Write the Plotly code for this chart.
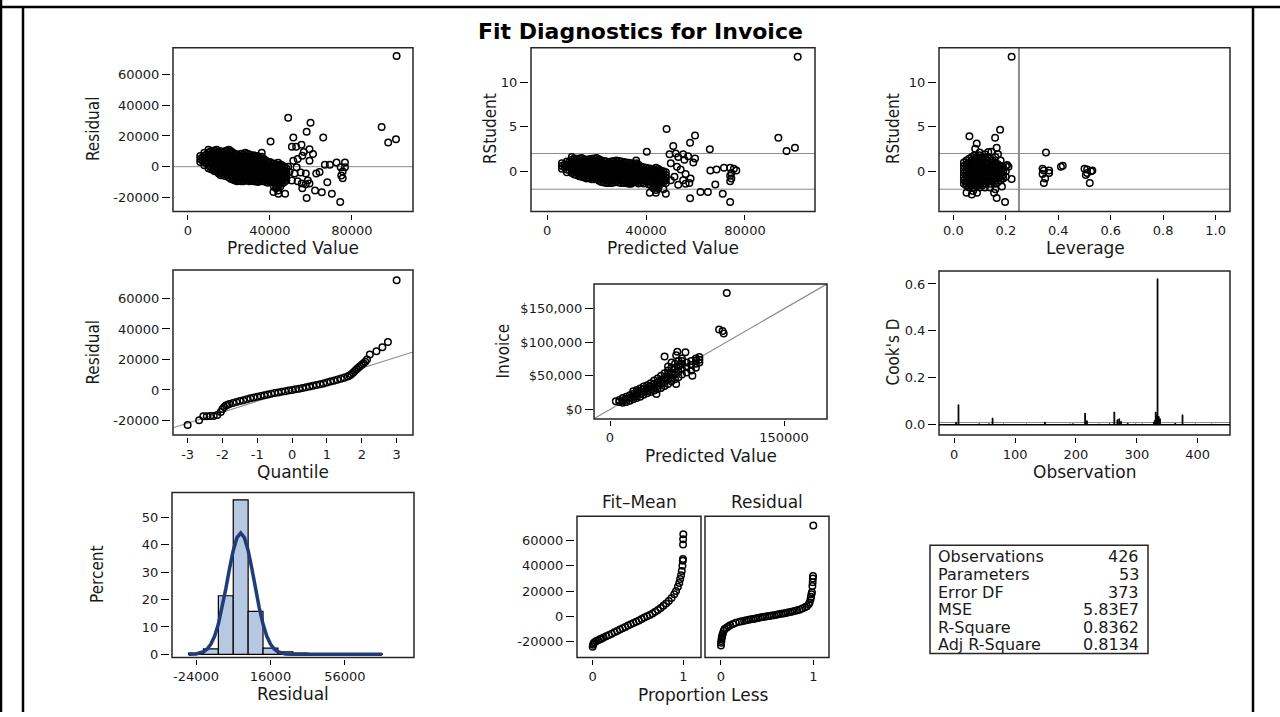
import plotly.graph_objects as go

W, H = 1280, 717

# ---------------- Panel 1: Residual vs Predicted Value ----------------
cluster_pred = [6000, 8000, 10000, 12000, 14000, 16000, 18000, 20000, 22000, 24000, 26000,
                28000, 30000, 32000, 34000, 36000, 38000, 40000, 42000, 44000, 46000, 48000]
p1_cluster_resid = [
    [7000, 5000, 3000],
    [9000, 7000, 5000, 3000, 1000],
    [11000, 9000, 7000, 5000, 3000, 1000, -1000],
    [10000, 8000, 6000, 4000, 2000, 0, -2000],
    [11000, 9000, 7000, 5000, 3000, 1000, -1000, -3000],
    [10000, 8000, 6000, 4000, 2000, 0, -2000, -4000, -5500],
    [10000, 8000, 6000, 4000, 2000, 0, -2000, -4000, -6000],
    [11000, 9000, 7000, 5000, 3000, 1000, -1000, -3000, -5000, -7000],
    [9000, 7000, 5000, 3000, 1000, -1000, -3000, -5000, -7000, -8500],
    [8000, 6000, 4000, 2000, 0, -2000, -4000, -6000, -8000, -9500],
    [8500, 6500, 4500, 2500, 500, -1500, -3500, -5500, -7500, -9500],
    [9000, 7000, 5000, 3000, 1000, -1000, -3000, -5000, -7000, -9000],
    [8000, 6000, 4000, 2000, 0, -2000, -4000, -6000, -8000, -9500],
    [7500, 5500, 3500, 1500, -500, -2500, -4500, -6500, -8500, -9500],
    [7000, 5000, 3000, 1000, -1000, -3000, -5000, -7000, -9000, -10000],
    [9000, 6500, 4500, 2500, 500, -1500, -3500, -5500, -7500, -9500],
    [4000, 2000, 0, -2000, -4000, -6000, -8000, -10000],
    [3000, 1000, -1000, -3000, -5000, -7000, -9000],
    [2000, 0, -2000, -4000, -6000, -8000, -10000, -13000],
    [2500, 500, -1500, -3500, -5500, -7500, -9500, -12500, -15500],
    [1000, -1000, -3000, -5000, -7000, -9000, -11000],
    [-1000, -3000, -5000, -7000, -9000],
]
cluster_pred_mid = [7000, 9000, 11000, 13000, 15000, 17000, 19000, 21000, 23000, 25000, 27000,
                    29000, 31000, 33000, 35000, 37000, 39000, 41000, 43000, 45000, 47000]
p1_cluster_resid_mid = [
    [6000, 4000],
    [8000, 6000, 4000, 2000],
    [10000, 8000, 6000, 4000, 2000, 0, -1500],
    [10500, 8500, 6500, 4500, 2500, 500, -1500, -3000],
    [9500, 7500, 5500, 3500, 1500, -500, -2500, -4500],
    [9000, 7000, 5000, 3000, 1000, -1000, -3000, -5000],
    [10500, 8500, 6500, 4500, 2500, 500, -1500, -3500, -5500],
    [10000, 8000, 6000, 4000, 2000, 0, -2000, -4000, -6000, -8000],
    [8500, 6500, 4500, 2500, 500, -1500, -3500, -5500, -7500, -9000],
    [7000, 5000, 3000, 1000, -1000, -3000, -5000, -7000, -9000],
    [8000, 6000, 4000, 2000, 0, -2000, -4000, -6000, -8000, -9500],
    [8500, 6500, 4500, 2500, 500, -1500, -3500, -5500, -7500, -9000],
    [7000, 5000, 3000, 1000, -1000, -3000, -5000, -7000, -9000],
    [6500, 4500, 2500, 500, -1500, -3500, -5500, -7500, -9500],
    [6000, 4000, 2000, 0, -2000, -4000, -6000, -8000, -9500],
    [5000, 3000, 1000, -1000, -3000, -5000, -7000, -9000],
    [3000, 1000, -1000, -3000, -5000, -7000, -9000, -10500],
    [2000, 0, -2000, -4000, -6000, -8000, -10000],
    [1500, -500, -2500, -4500, -6500, -8500, -10500, -14000],
    [1500, -500, -2500, -4500, -6500, -8500, -10500, -13000],
    [0, -2000, -4000, -6000, -8000, -10000],
]
p1_out_pred = [101800, 48900, 59800, 57900, 94500, 97700, 101500, 66000, 51400, 40300, 55400,
               50700, 52800, 59300, 61000, 55800, 59300, 51400, 66800, 69200, 72500, 76600,
               74500, 76600, 75500, 74800, 75500, 68000, 49500, 52000, 55000, 57500, 50700,
               53500, 55500, 57500, 58500, 59300, 55800, 57900, 62000, 65300, 70200, 74300,
               41700, 44100, 47400, 43000, 44600, 48900, 45700, 53000, 62600, 64200, 53500, 56500]
p1_out_resid = [72000, 31800, 28600, 22800, 25800, 15700, 17900, 19000, 19000, 16400, 14200,
                12900, 12900, 11400, 8200, 7100, 3900, 3900, 1300, 1300, 2800, 2800,
                -300, -300, -3200, -5800, -7500, -10100, -3500, -4500, -3800, -4500, -9000,
                -9500, -11000, -11500, -9000, -11000, -14000, -20400, -15500, -16600, -17600, -23000,
                -16500, -17600, -17600, -12300, -10100, 0, 500, -300, -4500, -3500, 5000, 9500]

# ---------------- Panel 2: RStudent vs Predicted Value ----------------
p2_cluster_rstudent = [
    [0.9, 0.6, 0.3],
    [1.1, 0.8, 0.5, 0.2, -0.1],
    [1.6, 1.3, 1.0, 0.7, 0.4, 0.1, -0.2],
    [1.4, 1.1, 0.8, 0.5, 0.2, -0.1, -0.4],
    [1.5, 1.2, 0.9, 0.6, 0.3, 0.0, -0.3, -0.6],
    [1.3, 1.0, 0.7, 0.4, 0.1, -0.2, -0.5, -0.8],
    [1.4, 1.1, 0.8, 0.5, 0.2, -0.1, -0.4, -0.7, -0.9],
    [1.5, 1.2, 0.9, 0.6, 0.3, 0.0, -0.3, -0.6, -0.9],
    [1.2, 0.9, 0.6, 0.3, 0.0, -0.3, -0.6, -0.9, -1.2],
    [1.1, 0.8, 0.5, 0.2, -0.1, -0.4, -0.7, -1.0, -1.3],
    [1.1, 0.8, 0.5, 0.2, -0.1, -0.4, -0.7, -1.0, -1.3],
    [1.2, 0.9, 0.6, 0.3, 0.0, -0.3, -0.6, -0.9, -1.2],
    [1.1, 0.8, 0.5, 0.2, -0.1, -0.4, -0.7, -1.0, -1.3],
    [1.0, 0.7, 0.4, 0.1, -0.2, -0.5, -0.8, -1.1, -1.3],
    [0.9, 0.6, 0.3, 0.0, -0.3, -0.6, -0.9, -1.2, -1.4],
    [1.2, 0.9, 0.6, 0.3, 0.0, -0.3, -0.6, -0.9, -1.2],
    [0.5, 0.2, -0.1, -0.4, -0.7, -1.0, -1.3],
    [0.4, 0.1, -0.2, -0.5, -0.8, -1.1],
    [0.3, 0.0, -0.3, -0.6, -0.9, -1.2, -1.6],
    [0.4, 0.1, -0.2, -0.5, -0.8, -1.1, -1.4, -1.7, -2.1],
    [0.1, -0.2, -0.5, -0.8, -1.1, -1.4],
    [-0.1, -0.4, -0.7, -1.0, -1.3],
]
p2_cluster_rstudent_mid = [
    [0.75, 0.45],
    [1.05, 0.75, 0.45, 0.15],
    [1.45, 1.15, 0.85, 0.55, 0.25, -0.05, -0.35],
    [1.45, 1.15, 0.85, 0.55, 0.25, -0.05, -0.35, -0.55],
    [1.35, 1.05, 0.75, 0.45, 0.15, -0.15, -0.45, -0.7],
    [1.35, 1.05, 0.75, 0.45, 0.15, -0.15, -0.45, -0.75],
    [1.45, 1.15, 0.85, 0.55, 0.25, -0.05, -0.35, -0.65, -0.9],
    [1.35, 1.05, 0.75, 0.45, 0.15, -0.15, -0.45, -0.75, -1.05],
    [1.15, 0.85, 0.55, 0.25, -0.05, -0.35, -0.65, -0.95, -1.25],
    [1.05, 0.75, 0.45, 0.15, -0.15, -0.45, -0.75, -1.05, -1.3],
    [1.15, 0.85, 0.55, 0.25, -0.05, -0.35, -0.65, -0.95, -1.25],
    [1.15, 0.85, 0.55, 0.25, -0.05, -0.35, -0.65, -0.95, -1.25],
    [1.05, 0.75, 0.45, 0.15, -0.15, -0.45, -0.75, -1.05, -1.3],
    [0.95, 0.65, 0.35, 0.05, -0.25, -0.55, -0.85, -1.15, -1.4],
    [0.85, 0.55, 0.25, -0.05, -0.35, -0.65, -0.95, -1.25],
    [0.75, 0.45, 0.15, -0.15, -0.45, -0.75, -1.05, -1.35],
    [0.45, 0.15, -0.15, -0.45, -0.75, -1.05, -1.35],
    [0.35, 0.05, -0.25, -0.55, -0.85, -1.15, -1.45],
    [0.25, -0.05, -0.35, -0.65, -0.95, -1.25, -1.55, -1.9],
    [0.25, -0.05, -0.35, -0.65, -0.95, -1.25, -1.55],
    [0.0, -0.3, -0.6, -0.9, -1.2],
]
p2_out_pred = [101300, 48300, 59800, 57800, 93500, 96800, 100200, 65800, 51000, 40300, 49500,
               52000, 55000, 53000, 55500, 57000, 59800, 59100, 50000, 52500, 54000, 56000,
               58000, 66000, 68500, 71500, 74000, 75500, 76500, 74500, 74000, 74500, 74000,
               68000, 62000, 65000, 71000, 57800, 74000, 41500, 44000, 48000, 56000, 55000,
               57500, 50000, 51500, 53000, 47000, 45000]
p2_out_rstudent = [12.84, 4.74, 4.0, 3.2, 3.75, 2.28, 2.65, 2.46, 2.83, 2.2, 1.9,
                   2.0, 1.9, 1.6, 1.3, 1.7, 1.43, 0.98, 0.9, 0.5, 0.2, -0.3,
                   -0.8, 0.1, 0.2, 0.4, 0.4, 0.3, 0.1, -0.2, -0.5, -0.8, -1.1,
                   -1.48, -2.3, -2.3, -2.5, -3.0, -3.43, -2.4, -2.4, -2.5, -1.4, -1.0,
                   -1.3, -1.0, -0.6, -1.5, -2.0, -1.9]

# ---------------- Panel 3: RStudent vs Leverage ----------------
p3_cluster_lev = [0.04, 0.05, 0.06, 0.07, 0.08, 0.09, 0.10, 0.11, 0.12, 0.13, 0.14, 0.15,
                  0.16, 0.17, 0.18, 0.19, 0.20]
p3_cluster_rstudent = [
    [1.0, 0.6, 0.2, -0.2, -0.6, -1.0, -1.4],
    [1.2, 0.8, 0.4, 0.0, -0.4, -0.8, -1.2, -1.6],
    [1.4, 1.0, 0.6, 0.2, -0.2, -0.6, -1.0, -1.4, -1.8],
    [1.6, 1.2, 0.8, 0.4, 0.0, -0.4, -0.8, -1.2, -1.6],
    [1.8, 1.4, 1.0, 0.6, 0.2, -0.2, -0.6, -1.0, -1.4, -1.8],
    [1.6, 1.2, 0.8, 0.4, 0.0, -0.4, -0.8, -1.2, -1.6],
    [1.8, 1.4, 1.0, 0.6, 0.2, -0.2, -0.6, -1.0, -1.4, -1.8],
    [1.6, 1.2, 0.8, 0.4, 0.0, -0.4, -0.8, -1.2, -1.6],
    [1.4, 1.0, 0.6, 0.2, -0.2, -0.6, -1.0, -1.4, -1.8],
    [1.6, 1.2, 0.8, 0.4, 0.0, -0.4, -0.8, -1.2],
    [1.4, 1.0, 0.6, 0.2, -0.2, -0.6, -1.0, -1.4, -1.8],
    [1.2, 0.8, 0.4, 0.0, -0.4, -0.8, -1.2],
    [1.6, 1.0, 0.6, 0.2, -0.2, -0.6, -1.0, -1.4],
    [0.8, 0.4, 0.0, -0.4, -0.8, -1.2],
    [1.2, 0.6, 0.2, -0.2, -0.6, -1.0],
    [0.4, 0.0, -0.4, -0.8],
    [0.6, 0.0, -0.6],
]
p3_out_lev = [0.222, 0.061, 0.089, 0.083, 0.178, 0.159, 0.165, 0.133, 0.145, 0.17, 0.205,
              0.21, 0.222, 0.165, 0.197, 0.155, 0.16, 0.05, 0.07, 0.09, 0.075, 0.048, 0.185,
              0.10, 0.12, 0.353, 0.34, 0.345, 0.365, 0.365, 0.34, 0.35, 0.345, 0.417, 0.41,
              0.50, 0.51, 0.525, 0.51, 0.505, 0.53, 0.52]
p3_out_rstudent = [12.84, 3.93, 3.12, 2.54, 4.67, 3.75, 2.65, 2.16, 2.2, 1.9, 0.7,
                   0.5, -0.85, -2.98, -3.43, -2.4, -2.0, -2.4, -2.6, -2.4, -2.2, -1.4, -1.7,
                   2.1, 1.9, 2.1, 0.3, 0.1, 0.1, -0.2, -0.3, -0.8, -1.3, 0.62, 0.5,
                   0.3, 0.2, 0.0, -0.2, -0.4, 0.1, -1.3]

# ---------------- Panel 4: Q-Q plot of residuals ----------------
qq_quantile = [-3.0, -2.67, -2.55, -2.45, -2.35, -2.25, -2.15, -2.05, -2.0, -1.95, -1.9, -1.85,
               -1.8, -1.7, -1.6, -1.5, -1.4, -1.3, -1.2, -1.1, -1.0, -0.9, -0.8, -0.7, -0.6,
               -0.5, -0.4, -0.3, -0.2, -0.1, 0.0, 0.1, 0.2, 0.3, 0.4, 0.5, 0.6, 0.7, 0.8, 0.9,
               1.0, 1.1, 1.2, 1.3, 1.4, 1.5, 1.6, 1.65, 1.7, 1.75, 1.8, 1.85, 1.9, 1.95, 2.0,
               2.05, 2.1, 2.15, 2.23, 2.42, 2.59, 2.75, 3.0]
qq_residual = [-23000, -19800, -17300, -17200, -17100, -17000, -16500, -14500, -12500, -11200,
               -10200, -9700, -9200, -8500, -7900, -7300, -6700, -6100, -5500, -5000, -4500,
               -4000, -3500, -3000, -2500, -2000, -1600, -1200, -800, -400, 0, 400, 800, 1300,
               1800, 2300, 2800, 3300, 3800, 4300, 4900, 5500, 6100, 6700, 7300, 8000, 8800,
               9500, 10300, 11300, 12500, 13500, 14500, 15500, 16500, 17500, 18500, 20000,
               23200, 25400, 28000, 31500, 72000]
qq_line_quantile = [-3.42, 3.47]
qq_line_residual = [-24800, 24900]

# ---------------- Panel 5: Invoice vs Predicted Value ----------------
p5_cluster_pred = [5000, 8000, 11000, 14000, 17000, 20000, 23000, 26000, 29000, 32000, 35000,
                   38000, 41000, 44000, 47000, 50000, 53000, 56000, 59000, 62000, 66000, 70000,
                   74000, 77000]
p5_cluster_invoice = [
    [12000], [11000, 14000], [10000, 13000, 17000], [11000, 15000, 19000],
    [13000, 17000, 21000], [15000, 19000, 23000, 27000], [17000, 21000, 25000, 29000],
    [19000, 23000, 27000, 31000], [22000, 26000, 30000, 34000], [24000, 28000, 32000, 36000],
    [26000, 30000, 34000, 39000], [28000, 33000, 38000, 43000], [30000, 35000, 40000, 46000],
    [32000, 38000, 44000, 50000], [35000, 41000, 47000, 54000],
    [38000, 45000, 52000, 58000, 64000], [42000, 48000, 55000, 62000, 70000],
    [45000, 52000, 60000, 68000], [48000, 56000, 64000, 72000], [52000, 60000, 68000, 76000],
    [55000, 63000, 70000], [58000, 66000, 72000], [62000, 68000, 73000, 76000],
    [70000, 74000, 78000],
]
p5_out_pred = [100600, 94000, 97000, 98000, 58000, 65000, 47000, 57000, 71000, 57000, 40000,
               62000, 60000]
p5_out_invoice = [173600, 119000, 117000, 113000, 86000, 85000, 79000, 80600, 50000, 38000,
                  23000, 72000, 66000]
p5_line = [-14000, 187000]

# ---------------- Panel 6: Cook's D ----------------
cooks_obs = [3, 7, 41, 57, 63, 81, 119, 149, 190, 195, 215, 218, 238, 255, 263, 268, 271, 274,
             285, 298, 309, 328, 330, 331, 332, 334, 335, 336, 338, 363, 375, 396, 423]
cooks_d = [0.01, 0.085, 0.004, 0.004, 0.028, 0.003, 0.003, 0.011, 0.003, 0.004, 0.049, 0.017,
           0.003, 0.004, 0.054, 0.021, 0.025, 0.014, 0.006, 0.003, 0.003, 0.012, 0.02, 0.054,
           0.04, 0.622, 0.03, 0.035, 0.025, 0.006, 0.042, 0.003, 0.003]
cooks_cutoff = 0.0094

# ---------------- Panel 7: residual histogram ----------------
hist_mid = [-24000, -16000, -8000, 0, 8000, 16000, 24000, 32000, 72000]
hist_pct = [0.5, 2.0, 21.4, 56.4, 15.7, 2.3, 0.9, 0.5, 0.2]
hist_bin_width = 8000
curve_x = [-28000, -24000, -20000, -18000, -16000, -14000, -12000, -10000, -8000, -6000, -4000,
           -2000, 0, 2000, 4000, 6000, 8000, 10000, 12000, 14000, 16000, 18000, 20000, 24000,
           28000, 36000, 76000]
curve_pct = [0.02, 0.17, 0.94, 1.95, 3.75, 6.69, 11.04, 16.89, 23.90, 31.30, 37.97, 42.62,
             44.3, 42.62, 37.97, 31.30, 23.90, 16.89, 11.04, 6.69, 3.75, 1.95, 0.94, 0.17,
             0.02, 0.0, 0.0]

# ---------------- Panel 8: residual-fit spread ----------------
fm_prop = [0.0, 0.005, 0.01, 0.02, 0.04, 0.06, 0.08, 0.10, 0.12, 0.15, 0.18, 0.21, 0.24, 0.27,
           0.30, 0.33, 0.36, 0.39, 0.42, 0.45, 0.48, 0.51, 0.54, 0.57, 0.60, 0.63, 0.66, 0.69,
           0.72, 0.75, 0.78, 0.81, 0.84, 0.87, 0.90, 0.92, 0.94, 0.955, 0.965, 0.975, 0.983,
           0.99, 0.994, 0.996, 0.997, 0.998, 1.0]
fm_value = [-24000, -22500, -21500, -20500, -19600, -18900, -18200, -17500, -16800, -15800,
            -14700, -13700, -12600, -11600, -10500, -9500, -8400, -7300, -6300, -5300, -4200,
            -3200, -2100, -1000, 0, 1100, 2300, 3600, 5000, 6600, 8300, 10100, 12200, 14600,
            17500, 20000, 23500, 26500, 29500, 32500, 36000, 40000, 44000, 45500, 57000,
            61000, 65000]
rs_prop = [0.0, 0.002, 0.004, 0.007, 0.01, 0.015, 0.02, 0.03, 0.04, 0.06, 0.08, 0.10, 0.13,
           0.16, 0.20, 0.225, 0.25, 0.275, 0.30, 0.325, 0.35, 0.375, 0.40, 0.425, 0.45, 0.475,
           0.50, 0.525, 0.55, 0.575, 0.60, 0.625, 0.65, 0.675, 0.70, 0.725, 0.75, 0.775, 0.80,
           0.825, 0.85, 0.88, 0.91, 0.93, 0.95, 0.96, 0.97, 0.975, 0.98, 0.985, 0.99, 0.993,
           0.995, 0.997, 1.0]
rs_value = [-23000, -21000, -19500, -17500, -16500, -15000, -13500, -11500, -10000, -9000,
            -8000, -7000, -6000, -5000, -4300, -3900, -3500, -3100, -2700, -2350, -2000, -1650,
            -1300, -950, -600, -300, 0, 300, 600, 950, 1300, 1650, 2000, 2350, 2700, 3100, 3500,
            3900, 4300, 4800, 5300, 6200, 7200, 8000, 9500, 11000, 13500, 15500, 17500, 19000,
            24000, 27000, 30000, 32000, 72000]

# ---------------- Panel 9: fit statistics ----------------
stats_labels = ["Observations", "Parameters", "Error DF", "MSE", "R-Square", "Adj R-Square"]
stats_values = ["426", "53", "373", "5.83E7", "0.8362", "0.8134"]

# ---------------- tick labels ----------------
big_ticks = [-20000, 0, 20000, 40000, 60000]
big_tick_text = ["-20000", "0", "20000", "40000", "60000"]
pred_ticks = [0, 40000, 80000]
pred_tick_text = ["0", "40000", "80000"]
rst_ticks = [0, 5, 10]
rst_tick_text = ["0", "5", "10"]
lev_ticks = [0, 0.2, 0.4, 0.6, 0.8, 1.0]
lev_tick_text = ["0.0", "0.2", "0.4", "0.6", "0.8", "1.0"]
qq_ticks = [-3, -2, -1, 0, 1, 2, 3]
qq_tick_text = ["-3", "-2", "-1", "0", "1", "2", "3"]
p5_x_ticks = [0, 150000]
p5_x_tick_text = ["0", "150000"]
p5_y_ticks = [0, 50000, 100000, 150000]
p5_y_tick_text = ["$0", "$50,000", "$100,000", "$150,000"]
obs_ticks = [0, 100, 200, 300, 400]
obs_tick_text = ["0", "100", "200", "300", "400"]
cook_ticks = [0, 0.2, 0.4, 0.6]
cook_tick_text = ["0.0", "0.2", "0.4", "0.6"]
hist_x_ticks = [-24000, 16000, 56000]
hist_x_tick_text = ["-24000", "16000", "56000"]
pct_ticks = [0, 10, 20, 30, 40, 50]
pct_tick_text = ["0", "10", "20", "30", "40", "50"]
prop_ticks = [0, 1]
prop_tick_text = ["0", "1"]

# ====================== figure construction ======================
TXT = "#1a1a1a"
SANS = "DejaVu Sans"
NARROW = "Liberation Sans Narrow, DejaVu Sans Condensed, Liberation Sans"
TICK_FONT = dict(family=SANS, size=13, color=TXT)
LABEL_FONT = dict(family=SANS, size=17, color=TXT)
VLABEL_FONT = dict(family=NARROW, size=17, color=TXT)
REF = "#8c8c8c"


def fx(px):
    return px / W


def fy(py):
    return 1 - py / H


fig = go.Figure()
layout = {}
shapes = []
annotations = []


def axname(n):
    return "" if n == 1 else str(n)


def add_panel(n, box, xr, yr, xt, xtt, yt, ytt, xgap=2, ygap=3, show_y=True):
    x0, x1, y0, y1 = box
    s = axname(n)
    common = dict(showgrid=False, zeroline=False, showline=False, ticks="outside",
                  tickcolor="black", tickwidth=1, tickfont=TICK_FONT, fixedrange=True)
    layout["xaxis" + s] = dict(domain=[fx(x0), fx(x1)], range=xr, anchor="free",
                               position=fy(y1 + xgap), tickvals=xt, ticktext=xtt,
                               ticklen=5, **common)
    layout["yaxis" + s] = dict(domain=[fy(y1), fy(y0)], range=yr, anchor="free",
                               position=fx(x0 - ygap), tickvals=yt if show_y else [],
                               ticktext=ytt if show_y else [], ticklen=8, **common)
    shapes.append(dict(type="rect", xref="paper", yref="paper", x0=fx(x0), x1=fx(x1),
                       y0=fy(y1), y1=fy(y0), line=dict(color="#262626", width=1.5),
                       layer="above"))


def hline(n, y, color=REF, width=1):
    s = axname(n)
    shapes.append(dict(type="line", xref="x" + s + " domain", yref="y" + s, x0=0, x1=1,
                       y0=y, y1=y, line=dict(color=color, width=width), layer="below"))


def vline(n, x, color=REF, width=1):
    s = axname(n)
    shapes.append(dict(type="line", xref="x" + s, yref="y" + s + " domain", x0=x, x1=x,
                       y0=0, y1=1, line=dict(color=color, width=width), layer="below"))


def label(text, cx, cy, vertical=False, font=None, xanchor="center"):
    annotations.append(dict(text=text, x=fx(cx), y=fy(cy), xref="paper", yref="paper",
                            showarrow=False, xanchor=xanchor, yanchor="middle",
                            textangle=-90 if vertical else 0,
                            font=font or (VLABEL_FONT if vertical else LABEL_FONT)))


def circles(x, y, n):
    s = axname(n)
    fig.add_trace(go.Scatter(x=x, y=y, xaxis="x" + s, yaxis="y" + s, mode="markers",
                             marker=dict(symbol="circle-open", size=6.5, color="black",
                                         line=dict(width=1.5, color="black")),
                             hoverinfo="skip"))


def flatten(cols, groups):
    xs = [c for c, g in zip(cols, groups) for _ in g]
    ys = [v for g in groups for v in g]
    return xs, ys


# Panel 1
add_panel(1, (173, 413, 48, 213), [-7300, 109800], [-29200, 77500],
          pred_ticks, pred_tick_text, big_ticks, big_tick_text)
hline(1, 0)
ax_, ay_ = flatten(cluster_pred, p1_cluster_resid)
bx_, by_ = flatten(cluster_pred_mid, p1_cluster_resid_mid)
circles(ax_ + bx_ + p1_out_pred, ay_ + by_ + p1_out_resid, 1)

# Panel 2
add_panel(2, (531, 815, 48, 213), [-6500, 108300], [-4.5, 13.85],
          pred_ticks, pred_tick_text, rst_ticks, rst_tick_text)
hline(2, 2)
hline(2, -2)
ax_, ay_ = flatten(cluster_pred, p2_cluster_rstudent)
bx_, by_ = flatten(cluster_pred_mid, p2_cluster_rstudent_mid)
circles(ax_ + bx_ + p2_out_pred, ay_ + by_ + p2_out_rstudent, 2)

# Panel 3
add_panel(3, (939, 1230, 48, 213), [-0.055, 1.055], [-4.5, 13.85],
          lev_ticks, lev_tick_text, rst_ticks, rst_tick_text)
hline(3, 2)
hline(3, -2)
vline(3, 0.25, width=2)
ax_, ay_ = flatten(p3_cluster_lev, p3_cluster_rstudent)
circles(ax_ + p3_out_lev, ay_ + p3_out_rstudent, 3)

# Panel 4
add_panel(4, (173, 413, 272, 438), [-3.42, 3.47], [-29500, 78600],
          qq_ticks, qq_tick_text, big_ticks, big_tick_text)
fig.add_trace(go.Scatter(x=qq_line_quantile, y=qq_line_residual, xaxis="x4", yaxis="y4",
                         mode="lines", line=dict(color=REF, width=1.2), hoverinfo="skip"))
circles(qq_quantile, qq_residual, 4)

# Panel 5
add_panel(5, (594, 827, 286, 422), [-13800, 187000], [-14400, 186900],
          p5_x_ticks, p5_x_tick_text, p5_y_ticks, p5_y_tick_text, xgap=1, ygap=1)
fig.add_trace(go.Scatter(x=p5_line, y=p5_line, xaxis="x5", yaxis="y5", mode="lines",
                         line=dict(color=REF, width=1.2), hoverinfo="skip"))
ax_, ay_ = flatten(p5_cluster_pred, p5_cluster_invoice)
circles(ax_ + p5_out_pred, ay_ + p5_out_invoice, 5)

# Panel 6
add_panel(6, (939, 1230, 273, 438), [-25, 453], [-0.0436, 0.655],
          obs_ticks, obs_tick_text, cook_ticks, cook_tick_text)
hline(6, cooks_cutoff, color=REF, width=1)
fig.add_trace(go.Bar(x=cooks_obs, y=cooks_d, xaxis="x6", yaxis="y6", width=1.4,
                     marker=dict(color="black", line=dict(color="black", width=0.9)),
                     hoverinfo="skip"))
shapes.append(dict(type="line", xref="x6 domain", yref="y6", x0=0, x1=1, y0=0, y1=0,
                   line=dict(color="black", width=1.5), layer="above"))

# Panel 7
add_panel(7, (172, 414, 496, 662), [-36900, 93100], [-1.1, 59.1],
          hist_x_ticks, hist_x_tick_text, pct_ticks, pct_tick_text)
fig.add_trace(go.Bar(x=hist_mid, y=hist_pct, xaxis="x7", yaxis="y7", width=hist_bin_width,
                     marker=dict(color="#b7c8e3", line=dict(color="black", width=1.2)),
                     hoverinfo="skip"))
fig.add_trace(go.Scatter(x=curve_x, y=curve_pct, xaxis="x7", yaxis="y7", mode="lines",
                         line=dict(color="#1f3c78", width=3.5), hoverinfo="skip"))

# Panel 8 (two sub-panels)
add_panel(8, (577, 701, 520, 662), [-0.173, 1.195], [-32500, 79200],
          prop_ticks, prop_tick_text, big_ticks, big_tick_text)
add_panel(9, (705, 829, 520, 662), [-0.173, 1.17], [-32500, 79200],
          prop_ticks, prop_tick_text, big_ticks, big_tick_text, show_y=False)
layout["yaxis9"]["ticks"] = ""
circles(fm_prop, fm_value, 8)
circles(rs_prop, rs_value, 9)

# Panel 9: statistics table
shapes.append(dict(type="rect", xref="paper", yref="paper", x0=fx(930), x1=fx(1148),
                   y0=fy(658), y1=fy(549), line=dict(color="#262626", width=1.5)))
TABLE_FONT = dict(family=SANS, size=16, color=TXT)
row_y = [560.5, 578.5, 596.5, 614, 631.5, 649]
for lab, val, ry in zip(stats_labels, stats_values, row_y):
    label(lab, 936, ry, font=TABLE_FONT, xanchor="left")
    label(val, 1141, ry, font=TABLE_FONT, xanchor="right")

# Titles and axis labels
label("<b>Fit Diagnostics for Invoice</b>", 640, 32,
      font=dict(family=SANS, size=22, color="black"))
label("Predicted Value", 293, 250)
label("Predicted Value", 673, 250)
label("Leverage", 1085, 250)
label("Residual", 93, 130, vertical=True)
label("RStudent", 490, 130, vertical=True)
label("RStudent", 893, 130, vertical=True)
label("Quantile", 293, 475)
label("Predicted Value", 711, 459)
label("Observation", 1085, 475)
label("Residual", 93, 355, vertical=True)
label("Invoice", 503, 354, vertical=True)
label("Cook's D", 893, 355, vertical=True)
label("Residual", 293, 699)
label("Proportion Less", 703, 700)
label("Fit–Mean", 639, 506)
label("Residual", 767, 506)
label("Percent", 97, 579, vertical=True)

# Outer page borders
BORDER = dict(color="black", width=2.5)
shapes.append(dict(type="line", xref="paper", yref="paper", x0=0, x1=1, y0=fy(7), y1=fy(7),
                   line=BORDER))
shapes.append(dict(type="line", xref="paper", yref="paper", x0=fx(1), x1=fx(1), y0=0, y1=1,
                   line=BORDER))
shapes.append(dict(type="line", xref="paper", yref="paper", x0=fx(23), x1=fx(23), y0=0,
                   y1=fy(7), line=BORDER))
shapes.append(dict(type="line", xref="paper", yref="paper", x0=fx(1253), x1=fx(1253), y0=0,
                   y1=fy(7), line=BORDER))

fig.update_layout(width=W, height=H, margin=dict(l=0, r=0, t=0, b=0),
                  paper_bgcolor="white", plot_bgcolor="white", showlegend=False,
                  hovermode=False, bargap=0, shapes=shapes, annotations=annotations,
                  **layout)

fig.write_html("out.html",
               config={"displayModeBar": False, "staticPlot": True},
               post_script="document.body.style.margin='0';"
                           "document.body.style.overflow='hidden';")
